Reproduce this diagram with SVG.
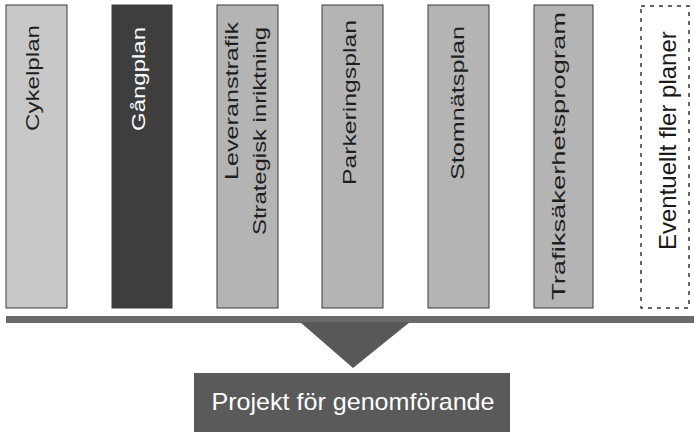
<svg xmlns="http://www.w3.org/2000/svg" width="694" height="432" viewBox="0 0 694 432">
  <style>
    .col { stroke: #3a3a3a; stroke-width: 1; }
    .light { fill: #c8c8c8; }
    .mid { fill: #b4b4b4; }
    .dark { fill: #3e3e3e; }
    .lbl { font-family: "Liberation Sans", Arial, sans-serif; font-size: 19px; fill: #1e1e1e; }
    .lbl-w { font-family: "Liberation Sans", Arial, sans-serif; font-size: 19px; fill: #ffffff; }
    .dash { fill: none; stroke: #333333; stroke-width: 1.5; stroke-dasharray: 4 5; }
    .big { font-family: "Liberation Sans", Arial, sans-serif; font-size: 24px; }
  </style>
  <rect width="694" height="432" fill="#ffffff"/>

  <g id="cykelplan">
    <rect class="col light" x="6" y="5" width="61" height="303"/>
    <text class="lbl" x="39" y="131" transform="rotate(-90 39 131)" textLength="106" lengthAdjust="spacingAndGlyphs">Cykelplan</text>
  </g>

  <g id="gangplan">
    <rect class="col dark" x="112" y="5" width="60" height="303"/>
    <text class="lbl-w" x="144.5" y="131" transform="rotate(-90 144.5 131)" textLength="104" lengthAdjust="spacingAndGlyphs">Gångplan</text>
  </g>

  <g id="leveranstrafik">
    <rect class="col mid" x="217" y="5" width="61" height="303"/>
    <text class="lbl" x="237.5" y="180" transform="rotate(-90 237.5 180)" textLength="158" lengthAdjust="spacingAndGlyphs">Leveranstrafik</text>
    <text class="lbl" x="265.5" y="235" transform="rotate(-90 265.5 235)" textLength="208" lengthAdjust="spacingAndGlyphs">Strategisk inriktning</text>
  </g>

  <g id="parkeringsplan">
    <rect class="col mid" x="322" y="5" width="61" height="303"/>
    <text class="lbl" x="355.5" y="185" transform="rotate(-90 355.5 185)" textLength="165" lengthAdjust="spacingAndGlyphs">Parkeringsplan</text>
  </g>

  <g id="stomnatsplan">
    <rect class="col mid" x="428" y="5" width="61" height="303"/>
    <text class="lbl" x="463.5" y="180" transform="rotate(-90 463.5 180)" textLength="154" lengthAdjust="spacingAndGlyphs">Stomnätsplan</text>
  </g>

  <g id="trafiksakerhetsprogram">
    <rect class="col mid" x="534" y="5" width="59" height="303"/>
    <text class="lbl" x="564.5" y="300" transform="rotate(-90 564.5 300)" textLength="288" lengthAdjust="spacingAndGlyphs">Trafiksäkerhetsprogram</text>
  </g>

  <g id="eventuellt">
    <rect class="dash" x="641" y="6" width="48" height="302"/>
    <text class="big" x="676" y="250" transform="rotate(-90 676 250)" fill="#1a1a1a">Eventuellt fler planer</text>
  </g>

  <g id="connectors">
    <rect x="6" y="316" width="688" height="7" fill="#6a6a6a"/>
    <polygon points="300,322 410,322 353,368" fill="#585858"/>
  </g>

  <g id="projekt">
    <rect x="194" y="373" width="316" height="59" fill="#5a5a5a"/>
    <text class="big" x="353" y="410" text-anchor="middle" fill="#ffffff" textLength="283" lengthAdjust="spacingAndGlyphs">Projekt för genomförande</text>
  </g>
</svg>
